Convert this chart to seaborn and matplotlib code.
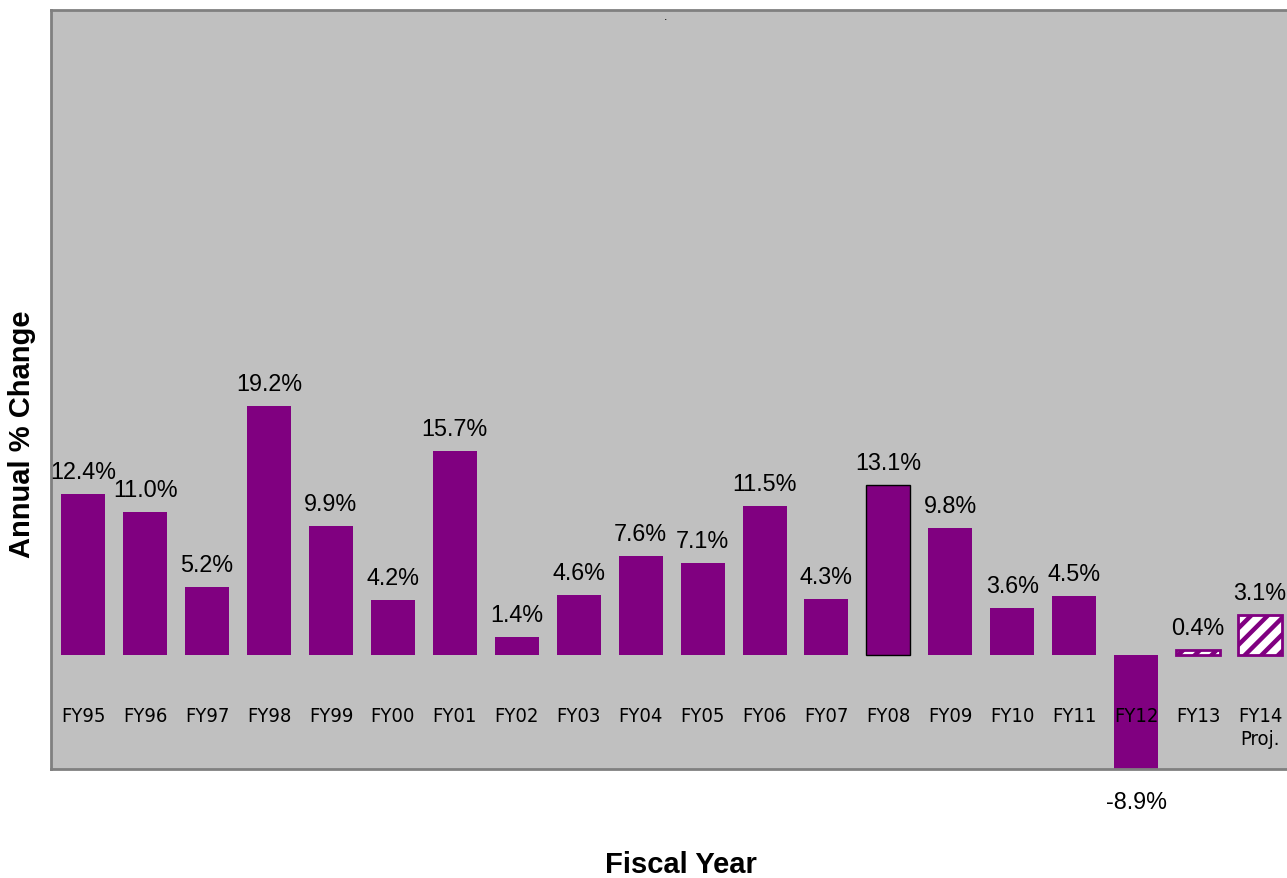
import matplotlib
matplotlib.use("Agg")
import matplotlib.pyplot as plt
import seaborn as sns
import numpy as np

categories = ["FY95", "FY96", "FY97", "FY98", "FY99", "FY00", "FY01", "FY02", "FY03", "FY04",
              "FY05", "FY06", "FY07", "FY08", "FY09", "FY10", "FY11", "FY12", "FY13", "FY14\nProj."]
values = [12.4, 11.0, 5.2, 19.2, 9.9, 4.2, 15.7, 1.4, 4.6, 7.6,
          7.1, 11.5, 4.3, 13.1, 9.8, 3.6, 4.5, -8.9, 0.4, 3.1]
value_labels = ["12.4%", "11.0%", "5.2%", "19.2%", "9.9%", "4.2%", "15.7%", "1.4%", "4.6%", "7.6%",
                "7.1%", "11.5%", "4.3%", "13.1%", "9.8%", "3.6%", "4.5%", "-8.9%", "0.4%", "3.1%"]
projected = [False] * 18 + [True, True]

PURPLE = "#800080"
sns.set_style("white", {"axes.facecolor": "#C0C0C0", "axes.edgecolor": "#808080"})
plt.rcParams["font.family"] = ["Liberation Sans", "DejaVu Sans"]
plt.rcParams["text.color"] = "black"
plt.rcParams["hatch.linewidth"] = 3.2

fig = plt.figure(figsize=(12.87, 8.79), dpi=100)
ax = fig.add_axes([51 / 1287, 109 / 879, 1240 / 1287, (770 - 11) / 879])

sns.barplot(x=list(range(len(values))), y=values, color=PURPLE, saturation=1,
            width=0.71, ax=ax, linewidth=0)

for i, p in enumerate(ax.patches):
    p.set_clip_on(False)
    if projected[i]:
        p.set_facecolor("white")
        p.set_edgecolor(PURPLE)
        p.set_hatch("//")
        p.set_linewidth(2)
    if categories[i] == "FY08":
        p.set_edgecolor("black")
        p.set_linewidth(1)

ax.set_xlim(-0.52, 19.5)
ax.set_ylim(-8.8, 49.7)
ax.set_xticks([])
ax.set_yticks([])
ax.set_xlabel("")
ax.set_ylabel("")
for s in ax.spines.values():
    s.set_linewidth(2)
    s.set_color("#808080")

for i, (v, lab) in enumerate(zip(values, value_labels)):
    if v >= 0:
        ax.annotate(lab, (i, v), xytext=(0, 11), textcoords="offset pixels",
                    ha="center", va="bottom", fontsize=16.8, color="black",
                    annotation_clip=False)
    else:
        ax.annotate(lab, (i, v), xytext=(0, -20), textcoords="offset pixels",
                    ha="center", va="top", fontsize=16.8, color="black",
                    annotation_clip=False)

for i, c in enumerate(categories):
    ax.text(i, -3.95, c, ha="center", va="top", fontsize=14.5, linespacing=1.25,
            family="DejaVu Sans", fontstretch="condensed", color="black")

ax.text(9.4, 49.2, ".", ha="center", va="center", fontsize=9, color="black")

fig.text(22 / 1287, 1 - 434 / 879, "Annual % Change", rotation=90, ha="center", va="center",
         fontsize=21, fontweight="bold", color="black")
fig.text(681 / 1287, 1 - 865 / 879, "Fiscal Year", ha="center", va="center",
         fontsize=21, fontweight="bold", color="black")

fig.savefig("out.png", dpi=100)
